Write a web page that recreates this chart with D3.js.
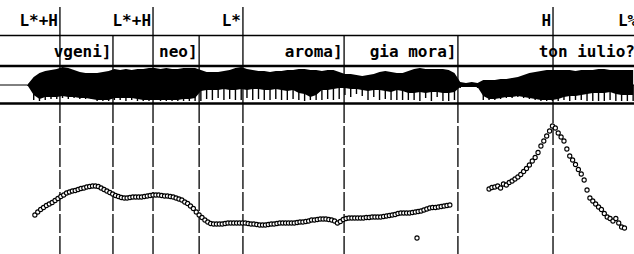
<!DOCTYPE html>
<html>
<head>
<meta charset="utf-8">
<script src="https://cdn.jsdelivr.net/npm/d3@7"></script>
<style>
body { margin: 0; background: #fff; }
svg { display: block; }
text { font-family: "DejaVu Sans Mono", monospace; font-weight: bold; font-size: 16px; }
</style>
</head>
<body>
<script>
// tone tier (points) and word tier (interval ends), seconds
var tones = ["L*+H", "L*+H", "L*", "H", "L%"];
var toneTimes = [0.208, 0.531, 0.843, 1.919, 2.218];
var words = ["vgeni]", "neo]", "aroma]", "gia mora]", "ton iulio?]"];
var wordEnds = [0.392, 0.691, 1.194, 1.589, 2.242];

// pitch track, Hz, one frame every 10 ms
var frameStep = 0.01;
var pitch1Start = 0.121;
var pitch1 = [128,134,139,143,147,150,153,157,161,165,
  168,172,174,176,177,179,181,182,184,185,
  186,186,185,182,179,176,173,170,167,165,
  163,162,162,163,164,164,164,164,165,166,
  167,168,168,168,167,166,166,165,164,162,
  160,158,154,151,146,141,134,128,123,118,
  114,111,110,110,110,110,111,112,112,112,
  112,112,112,112,111,110,110,109,108,108,
  108,109,110,110,111,112,112,112,112,112,
  112,113,114,114,115,116,118,118,119,120,
  120,120,119,118,116,112,115,119,121,122,
  122,122,122,122,122,123,123,124,124,124,
  124,125,126,127,128,129,131,132,132,132,
  132,133,134,135,136,138,140,142,143,143,
  144,145,146,147,148];
var pitch2Start = 1.697;
var pitch2 = [180,183,184,186,182,190,188,193,196,200,
  204,209,215,221,228,236,243,253,266,276,
  286,296,306,302,292,284,276,260,246,238,
  229,219,210,198,178,162,156,150,144,139,
  131,124,121,116,121,112,104,102];
var strayTime = 1.447, strayPitch = 82;

// waveform envelope, one value every 20 ms
var waveStep = 0.02;
var waveStart = 0.097;
var waveTop = [0.01,0.08,0.12,0.14,0.15,0.16,0.18,0.17,0.15,0.13,
  0.12,0.12,0.12,0.13,0.14,0.16,0.15,0.16,0.15,0.16,
  0.16,0.17,0.17,0.16,0.17,0.16,0.16,0.17,0.17,0.17,
  0.15,0.13,0.13,0.13,0.14,0.15,0.17,0.18,0.16,0.15,
  0.14,0.14,0.13,0.14,0.14,0.15,0.15,0.16,0.16,0.15,
  0.15,0.14,0.15,0.15,0.13,0.11,0.11,0.10,0.09,0.10,
  0.11,0.13,0.14,0.13,0.12,0.12,0.14,0.16,0.17,0.16,
  0.16,0.16,0.16,0.15,0.12,0.03,0.02,0.03,0.02,0.05,
  0.05,0.05,0.06,0.06,0.07,0.08,0.10,0.12,0.13,0.14,
  0.15,0.15,0.15,0.15,0.15,0.14,0.15,0.15,0.15,0.16,
  0.16,0.15,0.15,0.15,0.15,0.15];
var waveBottom = [-0.01,-0.10,-0.14,-0.12,-0.12,-0.12,-0.11,-0.12,-0.12,-0.13,
  -0.13,-0.14,-0.15,-0.15,-0.15,-0.13,-0.13,-0.13,-0.13,-0.14,
  -0.15,-0.15,-0.15,-0.15,-0.15,-0.15,-0.15,-0.14,-0.14,-0.13,
  -0.06,-0.05,-0.05,-0.05,-0.04,-0.05,-0.05,-0.04,-0.05,-0.04,
  -0.04,-0.05,-0.05,-0.04,-0.05,-0.06,-0.05,-0.08,-0.09,-0.12,
  -0.10,-0.05,-0.05,-0.04,-0.03,-0.03,-0.04,-0.04,-0.05,-0.06,
  -0.05,-0.05,-0.06,-0.07,-0.05,-0.06,-0.08,-0.08,-0.07,-0.08,
  -0.07,-0.07,-0.08,-0.08,-0.07,-0.02,-0.02,-0.02,-0.02,-0.11,
  -0.14,-0.14,-0.13,-0.12,-0.12,-0.11,-0.12,-0.13,-0.14,-0.15,
  -0.15,-0.15,-0.14,-0.12,-0.11,-0.11,-0.10,-0.09,-0.08,-0.08,
  -0.08,-0.07,-0.09,-0.10,-0.10,-0.10];
var waveSpike = [-0.01,-0.15,-0.16,-0.15,-0.14,-0.14,-0.13,-0.14,-0.13,-0.14,
  -0.14,-0.14,-0.16,-0.16,-0.16,-0.15,-0.15,-0.16,-0.15,-0.16,
  -0.16,-0.16,-0.15,-0.16,-0.16,-0.16,-0.16,-0.16,-0.16,-0.16,
  -0.16,-0.14,-0.15,-0.13,-0.15,-0.14,-0.15,-0.15,-0.13,-0.15,
  -0.14,-0.15,-0.15,-0.14,-0.15,-0.15,-0.14,-0.15,-0.16,-0.15,
  -0.15,-0.15,-0.14,-0.15,-0.14,-0.10,-0.12,-0.09,-0.11,-0.15,
  -0.12,-0.15,-0.14,-0.15,-0.15,-0.15,-0.15,-0.15,-0.16,-0.13,
  -0.16,-0.12,-0.16,-0.16,-0.15,-0.03,-0.02,-0.02,-0.03,-0.15,
  -0.15,-0.15,-0.14,-0.13,-0.13,-0.12,-0.13,-0.14,-0.15,-0.16,
  -0.16,-0.16,-0.16,-0.15,-0.16,-0.15,-0.15,-0.16,-0.16,-0.16,
  -0.16,-0.15,-0.16,-0.16,-0.16,-0.16];

var W = 634, H = 254;
var toneTop = 7, wordTop = 35.5, waveTopY = 66, waveBotY = 103.5;

var x = d3.scaleLinear().domain([0, 2.2]).range([0, W]);
var yPitch = d3.scaleLinear().domain([50, 350]).range([254, 104]);
var yWave = d3.scaleLinear().domain([-0.18, 0.18]).range([103, 67]);

var svg = d3.select('body').append('svg')
    .attr('width', W)
    .attr('height', H);

// waveform
var wave = waveTop.map(function (d, i) {
  return { t: waveStart + i * waveStep, top: d, bot: waveBottom[i], spike: waveSpike[i] };
});
svg.append('line')
    .attr('x1', 0).attr('x2', W)
    .attr('y1', yWave(0)).attr('y2', yWave(0))
    .attr('stroke', 'black').attr('stroke-width', 1);
svg.append('path')
    .datum(wave)
    .attr('fill', 'black')
    .attr('d', d3.area()
      .x(function (d) { return x(d.t) })
      .y0(function (d) { return yWave(d.bot) })
      .y1(function (d) { return yWave(d.top) }));
svg.selectAll('.spike')
    .data(wave)
    .enter()
  .append('line')
    .attr('class', 'spike')
    .attr('x1', function (d) { return x(d.t) })
    .attr('x2', function (d) { return x(d.t) })
    .attr('y1', yWave(0))
    .attr('y2', function (d) { return yWave(d.spike) })
    .attr('stroke', 'black')
    .attr('stroke-width', 1.4);

// horizontal tier lines
svg.append('line')
    .attr('x1', 0).attr('x2', W).attr('y1', wordTop).attr('y2', wordTop)
    .attr('stroke', 'black').attr('stroke-width', 1.3);
[waveTopY, waveBotY].forEach(function (yy) {
  svg.append('line')
      .attr('x1', 0).attr('x2', W).attr('y1', yy).attr('y2', yy)
      .attr('stroke', 'black').attr('stroke-width', 2.6);
});

// boundaries: solid through tiers, dashed through pitch area
function boundary(t, top) {
  svg.append('line')
      .attr('x1', x(t)).attr('x2', x(t))
      .attr('y1', top).attr('y2', waveBotY)
      .attr('stroke', 'black').attr('stroke-width', 1.3);
  svg.append('line')
      .attr('x1', x(t)).attr('x2', x(t))
      .attr('y1', 104).attr('y2', H)
      .attr('stroke', 'black').attr('stroke-width', 1.3)
      .attr('stroke-dasharray', '19,3');
}
toneTimes.forEach(function (t) { boundary(t, toneTop) });
wordEnds.forEach(function (t) { boundary(t, wordTop) });

// labels
svg.selectAll('.tone')
    .data(tones)
    .enter()
  .append('text')
    .attr('class', 'tone')
    .attr('x', function (d, i) { return x(toneTimes[i]) - 2 })
    .attr('y', 26)
    .attr('text-anchor', 'end')
    .text(function (d) { return d });
svg.selectAll('.word')
    .data(words)
    .enter()
  .append('text')
    .attr('class', 'word')
    .attr('x', function (d, i) { return x(wordEnds[i]) - 1.5 })
    .attr('y', 57)
    .attr('text-anchor', 'end')
    .text(function (d) { return d });

// pitch points
var pts = pitch1.map(function (f, i) { return { t: pitch1Start + i * frameStep, f: f } })
  .concat([{ t: strayTime, f: strayPitch }])
  .concat(pitch2.map(function (f, i) { return { t: pitch2Start + i * frameStep, f: f } }));
svg.selectAll('circle')
    .data(pts)
    .enter()
  .append('circle')
    .attr('cx', function (d) { return x(d.t) })
    .attr('cy', function (d) { return yPitch(d.f) })
    .attr('r', 2.1)
    .attr('fill', 'white')
    .attr('stroke', 'black')
    .attr('stroke-width', 1.1);
</script>
</body>
</html>
